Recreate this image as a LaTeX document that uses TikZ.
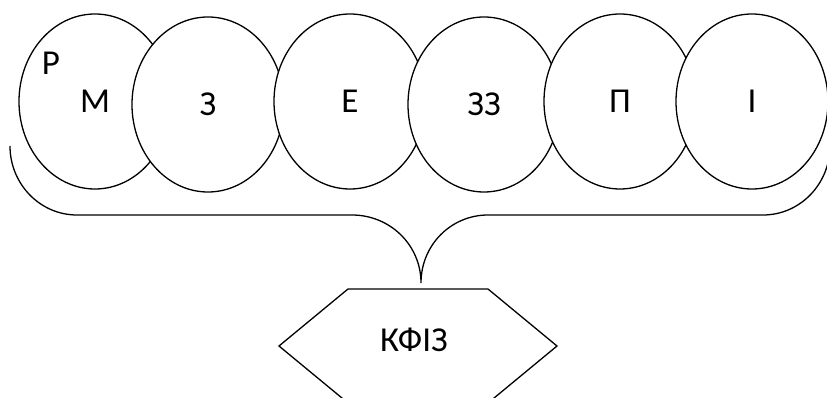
\documentclass[tikz,border=0pt]{standalone}
\usepackage{fontspec}
\setmainfont{Carlito}
\usetikzlibrary{shapes.geometric}
\begin{document}
\begin{tikzpicture}[x=1pt,y=-1pt,
  line width=1.3pt,
  oval/.style={draw,fill=white,ellipse,inner sep=0pt,minimum width=152pt,minimum height=175pt,font=\fontsize{35}{40}\selectfont},
  lbl/.style={inner sep=0pt,font=\fontsize{35}{40}\selectfont}]
\useasboundingbox (0,0) rectangle (827,398);
\clip (0,0) rectangle (827,398);
\node[oval] (m)  at (95,101.5) {М};
\node[oval] (z)  at (208,104.5) {З};
\node[oval] (e)  at (350,101.5) {Е};
\node[oval] (zz) at (484,104.5) {ЗЗ};
\node[oval] (p)  at (620,101.5) {П};
\node[oval] (i)  at (752,101.5) {І};
\node[lbl] (r) at (51,63) {Р};
% brace
\coordinate (bl) at (10,146);
\coordinate (br) at (830,146);
\coordinate (tip) at (421,283);
\draw (bl) .. controls (10,184) and (40,215) .. (77,215)
  -- (352,215) .. controls (390,215) and (421,245) .. (tip)
  .. controls (421,245) and (451,215) .. (488,215)
  -- (763,215) .. controls (800,215) and (830,184) .. (br);
% hexagon
\draw (348,289) -- (488,289) -- (557,346) -- (488,403) -- (348,403) -- (279,346) -- cycle;
\node[lbl] (k) at (414,340) {КФІЗ};
\end{tikzpicture}
\end{document}
